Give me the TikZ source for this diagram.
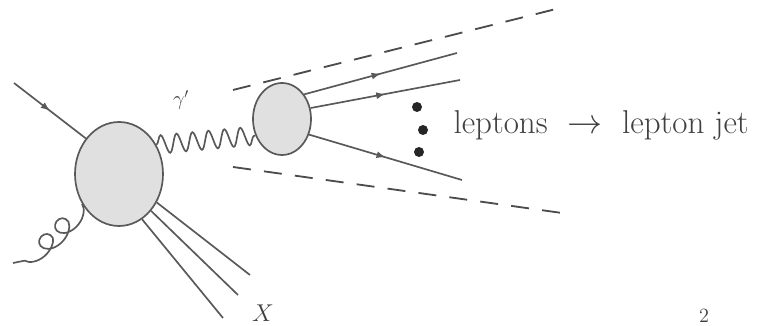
\documentclass[tikz,border=0pt]{standalone}
\usepackage{amsmath}
\usepackage{tikz}
\usetikzlibrary{shapes, shapes.geometric, arrows, positioning, decorations.pathmorphing, decorations.markings}

\begin{document}
\begin{tikzpicture}[x=0.025cm, y=0.025cm, >=latex', thick]
        % Stiluri
        \tikzstyle{blob} = [draw=black!65, ellipse, fill=black!12, line width=1.2pt, inner sep=0pt]
        \tikzstyle{line} = [draw=black!65, line width=1.2pt]
        \tikzstyle{fermion} = [line, postaction={decorate}, decoration={markings, mark=at position 0.5 with {\arrow{latex}}}]
        \tikzstyle{photon} = [line, decorate, decoration={snake, amplitude=2.3mm, segment length=4mm}]
        \tikzstyle{gluon} = [line, decorate, decoration={coil, amplitude=2.4mm, segment length=5.6mm, aspect=1.3}]
        \tikzstyle{cone} = [draw=black!70, line width=1.3pt, dash pattern=on 4.5mm off 3.3mm]
        \tikzstyle{dot} = [circle, fill=black!85, inner sep=0pt, minimum size=2.5mm]
        \tikzstyle{label} = [text=black!75]

        \useasboundingbox (0,0) rectangle (778,326);

        % --- Blob-uri ---
        \node [blob, minimum width=88*0.025cm, minimum height=104*0.025cm] (hard) at (119,152) {};
        \node [blob, minimum width=58*0.025cm, minimum height=72*0.025cm] (dark) at (282,207) {};

        % --- Capete libere ---
        \coordinate (q_in) at (14,243);
        \coordinate (g_in) at (13,63);
        \coordinate (x_a) at (250,51);
        \coordinate (x_b) at (238,31);
        \coordinate (x_c) at (223,8);
        \coordinate (lep_a) at (457,273);
        \coordinate (lep_b) at (460,246);
        \coordinate (lep_c) at (462,146);
        \coordinate (cone_up_a) at (233,236);
        \coordinate (cone_up_b) at (560,318);
        \coordinate (cone_dn_a) at (233,159);
        \coordinate (cone_dn_b) at (562,113);

        % --- Intrari ---
        \draw [fermion] (q_in) -- (hard.133);
        \draw [gluon] (hard.219) to[bend left=12] (g_in);

        % --- X ---
        \draw [line] (hard.-37) -- (x_a);
        \draw [line] (hard.-49) -- (x_b);
        \draw [line] (hard.-63) -- (x_c);
        \node [label, font=\LARGE] (xlab) at (263,13) {$X$};

        % --- Foton intunecat ---
        \draw [photon] (hard.38) -- (dark.212);
        \node [label, font=\Large] (gam) at (181,226) {$\gamma'$};

        % --- Leptoni ---
        \draw [fermion] (dark.48) -- (lep_a);
        \draw [fermion] (dark.21) -- (lep_b);
        \draw [fermion] (dark.-30) -- (lep_c);

        \node [dot] (d1) at (417,219) {};
        \node [dot] (d2) at (423,196) {};
        \node [dot] (d3) at (419,174) {};

        % --- Con ---
        \draw [cone] (cone_up_a) -- (cone_up_b);
        \draw [cone] (cone_dn_a) -- (cone_dn_b);

        \node [label, anchor=base west, inner sep=0pt, font=\fontsize{23.5}{28}\selectfont] (jet) at (453,192) {leptons $\;\rightarrow\;$ lepton jet};
        \node [label, font=\Large] (pg) at (704,10) {2};
\end{tikzpicture}
\end{document}
